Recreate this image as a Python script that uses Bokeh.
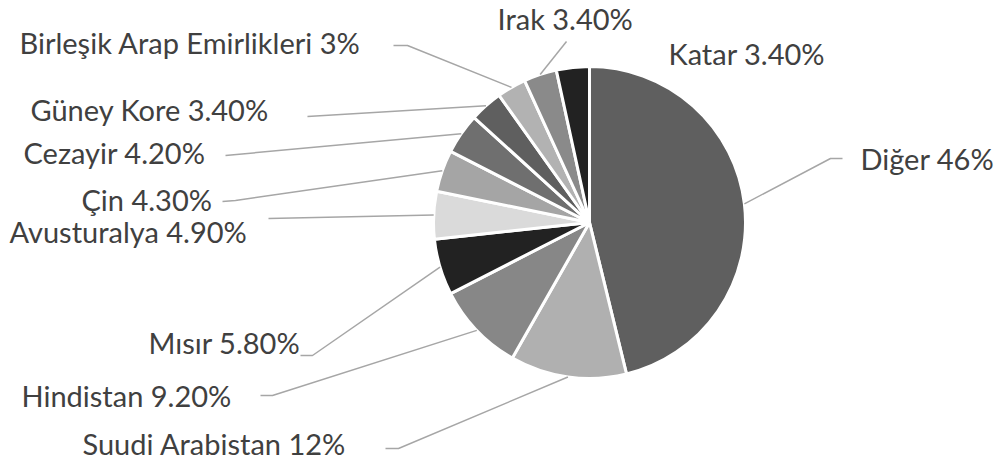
import math
from bokeh.plotting import figure
from bokeh.models import Range1d, ColumnDataSource
from bokeh.embed import file_html
from bokeh.resources import INLINE
from bokeh.core.properties import value

# ---- data ----
names = ["Diğer", "Suudi Arabistan", "Hindistan", "Mısır", "Avusturalya", "Çin",
         "Cezayir ", "Güney Kore", "Birleşik Arap Emirlikleri", "Irak", "Katar"]
shares = [46, 12, 9.2, 5.8, 4.9, 4.3, 4.2, 3.4, 3.0, 3.4, 3.4]
pct_text = ["46%", "12%", "9.20%", "5.80%", "4.90%", "4.30%", "4.20%", "3.40%", "3%", "3.40%", "3.40%"]
colors = ["#5f5f5f", "#b0b0b0", "#878787", "#222222", "#dadada", "#a5a5a5",
          "#6f6f6f", "#5f5f5f", "#b2b2b2", "#8a8a8a", "#222222"]

# ---- layout (reference pixel coords, y downward; label y = text middle) ----
W_PAGE, H_PAGE = 995, 461
CX, CY, R = 589, 222, 156
label_pos = [(860, 158), (82, 443), (21, 395), (148, 342), (9, 231), (81, 199),
             (23, 152), (30, 109), (19, 42), (497, 18), (668, 53)]
elbows = [[(842, 158), (830, 158)], [(385, 448), (398, 448)], [(260, 395), (272, 395)],
          [(300, 355), (312, 355)], [(268, 218)], [(222, 201), (235, 200)],
          [(225, 155)], [(307, 116)], [(393, 45), (407, 45)], [(566, 41)], []]

def Y(y):
    return H_PAGE - y

p = figure(width=W_PAGE, height=H_PAGE, output_backend="svg", toolbar_location=None,
           x_range=Range1d(0, W_PAGE), y_range=Range1d(0, H_PAGE),
           x_axis_location=None, y_axis_location=None, min_border=0)
p.grid.visible = False
p.outline_line_color = None
p.background_fill_color = "white"
p.border_fill_color = "white"

total = sum(shares)
starts, ends, mids = [], [], []
cum = 0.0
for v in shares:
    a0 = math.pi / 2 - 2 * math.pi * cum / total
    cum += v
    a1 = math.pi / 2 - 2 * math.pi * cum / total
    starts.append(a0)
    ends.append(a1)
    mids.append((a0 + a1) / 2)

src = ColumnDataSource(dict(x=[CX] * len(shares), y=[Y(CY)] * len(shares),
                            start=starts, end=ends, color=colors))
p.wedge(x="x", y="y", radius=R, start_angle="start", end_angle="end",
        direction="clock", fill_color="color", line_color="white", line_width=3,
        source=src)

xs, ys = [], []
for i, pts in enumerate(elbows):
    if not pts:
        continue
    ex = CX + R * math.cos(mids[i])
    ey = Y(CY) + R * math.sin(mids[i])
    lx = [q[0] for q in pts] + [ex]
    ly = [Y(q[1]) for q in pts] + [ey]
    xs.append(lx)
    ys.append(ly)
p.multi_line(xs=xs, ys=ys, line_color="#a6a6a6", line_width=1.5)

labels = [f"{n} {t}" for n, t in zip(names, pct_text)]
p.text(x=[q[0] for q in label_pos], y=[Y(q[1]) for q in label_pos], text=labels,
       text_font=value("Lato"), text_font_size="29px", text_color="#404040",
       text_baseline="middle", text_align="left")

open("out.html", "w").write(file_html(p, INLINE))
